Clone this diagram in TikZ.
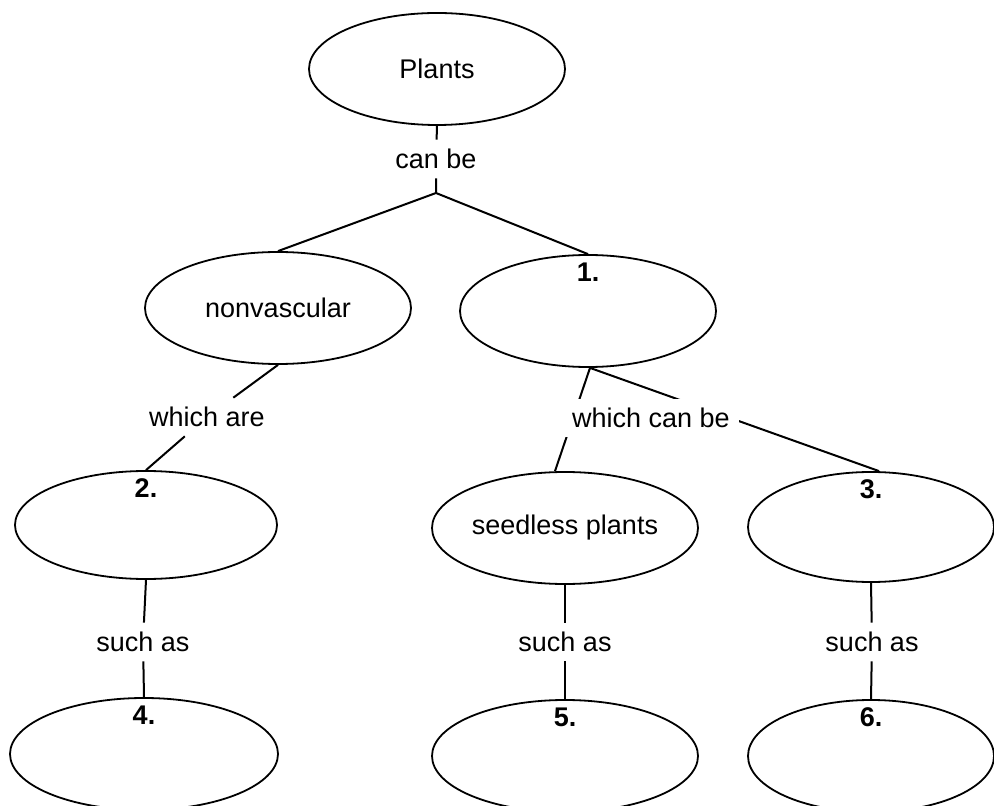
\documentclass[tikz,border=0pt]{standalone}
\usepackage{fontspec}
\setmainfont{Liberation Sans}
\usetikzlibrary{shapes.geometric}

\begin{document}
\begin{tikzpicture}[x=0.5pt, y=-0.5pt,
    txt/.style={font=\fontsize{13.5}{16}\selectfont},
    concept/.style 2 args={ellipse, draw, line width=0.9pt, inner sep=0pt, txt,
                           minimum width=#1pt, minimum height=#2pt},
    num/.style={anchor=north, inner sep=4pt, font=\fontsize{13.5}{16}\selectfont\bfseries},
    linkword/.style={txt, fill=white, inner sep=4.5pt},
    link/.style={line width=1pt}]
    \clip (0,0) rectangle (994,806);

    % concepts
    \node[concept={128}{56}] (plants) at (437, 69) {Plants};
    \node[concept={133}{56}] (nonvasc) at (278, 308) {nonvascular};
    \node[concept={128}{56}, label={[num]north:1.}] (one) at (588, 311) {};
    \node[concept={131}{54}, label={[num]north:2.}] (two) at (146, 525) {};
    \node[concept={133}{56}] (seedless) at (565, 528) {seedless plants};
    \node[concept={123}{55}, label={[num]north:3.}] (three) at (871, 527) {};
    \node[concept={134}{56}, label={[num]north:4.}] (four) at (144, 754) {};
    \node[concept={133}{56}, label={[num]north:5.}] (five) at (565, 756) {};
    \node[concept={123}{56}, label={[num]north:6.}] (six) at (871, 756) {};

    % linking words
    \node[linkword] (canbe) at (436, 159) {can be};
    \coordinate (fork) at (436, 193);
    \node[linkword] (whichare) at (207, 417) {which are};
    \node[linkword] (such1) at (143, 642) {such as};
    \node[linkword] (such2) at (565, 642) {such as};
    \node[linkword] (such3) at (872, 642) {such as};

    \draw[link] (plants.south) -- (canbe) -- (fork);
    \draw[link] (fork) -- (nonvasc.north)
                (fork) -- (one.north);
    \draw[link] (nonvasc.south) -- (whichare) -- (two.north);
    \draw[link] ([xshift=1pt]one.south) -- ([xshift=-5pt]seedless.north)
                ([xshift=1pt]one.south) -- ([xshift=4pt]three.north);
    \node[linkword] (whichcan) at (651, 418) {which can be};
    \draw[link] (two.south) -- (such1) -- (four.north);
    \draw[link] (seedless.south) -- (such2) -- (five.north);
    \draw[link] (three.south) -- (such3) -- (six.north);
\end{tikzpicture}
\end{document}
